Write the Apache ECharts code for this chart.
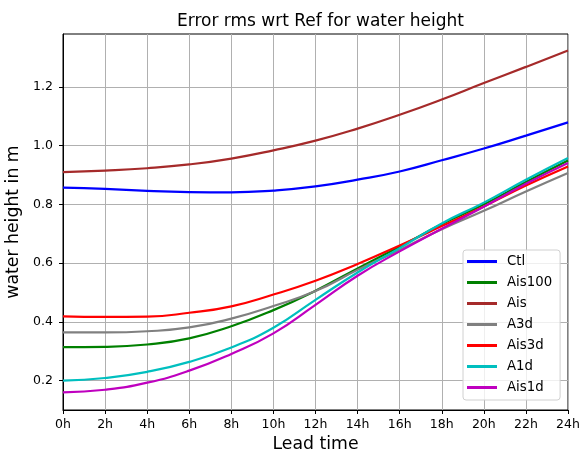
<!DOCTYPE html>
<html>
<head>
<meta charset="utf-8">
<script src="https://cdn.jsdelivr.net/npm/echarts@6/dist/echarts.min.js"></script>
<style>
  html, body { margin: 0; padding: 0; background: #fff; }
  #chart { width: 581px; height: 452px; }
</style>
</head>
<body>
<div id="chart"></div>
<script>
// lead time in hours
const leadHours = [0, 2, 4, 6, 8, 10, 12, 14, 16, 18, 20, 22, 24];
const yTicks = [0.2, 0.4, 0.6, 0.8, 1.0, 1.2];

// rms error per experiment (m), read every 2h
const ctl    = [0.857, 0.853, 0.846, 0.842, 0.841, 0.847, 0.861, 0.884, 0.912, 0.950, 0.990, 1.034, 1.079];
const ais100 = [0.314, 0.315, 0.323, 0.344, 0.385, 0.440, 0.506, 0.582, 0.656, 0.732, 0.800, 0.876, 0.949];
const ais    = [0.910, 0.915, 0.923, 0.936, 0.956, 0.984, 1.017, 1.058, 1.105, 1.157, 1.213, 1.268, 1.324];
const a3d    = [0.364, 0.364, 0.368, 0.381, 0.411, 0.454, 0.505, 0.577, 0.645, 0.715, 0.778, 0.844, 0.907];
const ais3d  = [0.419, 0.417, 0.418, 0.431, 0.453, 0.493, 0.540, 0.597, 0.660, 0.726, 0.793, 0.864, 0.929];
const a1d    = [0.200, 0.209, 0.230, 0.264, 0.313, 0.380, 0.475, 0.568, 0.651, 0.735, 0.806, 0.884, 0.958];
const ais1d  = [0.160, 0.169, 0.193, 0.234, 0.291, 0.361, 0.458, 0.557, 0.640, 0.717, 0.792, 0.870, 0.941];

const seriesDefs = [
  { name: 'Ctl',    data: ctl,    color: '#0000ff' },
  { name: 'Ais100', data: ais100, color: '#008000' },
  { name: 'Ais',    data: ais,    color: '#a52a2a' },
  { name: 'A3d',    data: a3d,    color: '#808080' },
  { name: 'Ais3d',  data: ais3d,  color: '#ff0000' },
  { name: 'A1d',    data: a1d,    color: '#00bfbf' },
  { name: 'Ais1d',  data: ais1d,  color: '#bf00bf' }
];

const FONT = 'DejaVu Sans';
const chart = echarts.init(document.getElementById('chart'), null, { renderer: 'canvas' });

chart.setOption({
  animation: false,
  textStyle: { fontFamily: FONT },
  title: {
    text: 'Error rms wrt Ref for water height',
    left: 315.5,
    top: 8,
    textAlign: 'center',
    textStyle: { fontFamily: FONT, fontSize: 17, fontWeight: 'normal', color: '#000' }
  },
  grid: {
    left: 63, right: 13, top: 34, bottom: 42,
    outerBoundsMode: 'none',
    containLabel: false,
    show: true, borderColor: '#000', borderWidth: 1, backgroundColor: '#fff'
  },
  legend: {
    orient: 'vertical',
    left: 463,
    top: 250,
    icon: 'rect',
    itemWidth: 30,
    itemHeight: 3,
    itemGap: 8,
    padding: [5, 8, 6, 4],
    backgroundColor: 'rgba(255,255,255,0.8)',
    borderColor: '#d0d0d0',
    borderWidth: 1,
    borderRadius: 3,
    textStyle: { fontFamily: FONT, fontSize: 13.3, color: '#000', padding: [0, 0, 0, 5] },
    data: seriesDefs.map(s => s.name)
  },
  xAxis: {
    type: 'value',
    min: 0,
    max: 24,
    interval: 2,
    name: 'Lead time',
    nameLocation: 'middle',
    nameGap: 26,
    nameTextStyle: { fontFamily: FONT, fontSize: 17.3, color: '#000' },
    axisLine: { lineStyle: { color: '#000', width: 1 } },
    axisTick: { show: true, length: 4, inside: false, lineStyle: { color: '#000' } },
    axisLabel: {
      fontFamily: FONT, fontSize: 12.5, color: '#000', margin: 8,
      formatter: v => v + 'h'
    },
    splitLine: { show: true, lineStyle: { color: '#b0b0b0', width: 1 } }
  },
  yAxis: {
    type: 'value',
    min: 0.1,
    max: 1.38,
    splitNumber: 6,
    name: 'water height in m',
    nameLocation: 'middle',
    nameGap: 38,
    nameTextStyle: { fontFamily: FONT, fontSize: 17.3, color: '#000' },
    axisLine: { show: true, lineStyle: { color: '#000', width: 1 } },
    axisTick: { show: true, length: 4, inside: false, customValues: yTicks, lineStyle: { color: '#000' } },
    axisLabel: {
      fontFamily: FONT, fontSize: 12.5, color: '#000', margin: 10,
      customValues: yTicks,
      formatter: v => v.toFixed(1)
    },
    splitLine: { show: true, lineStyle: { color: '#b0b0b0', width: 1 } }
  },
  series: seriesDefs.map(s => ({
    name: s.name,
    type: 'line',
    data: leadHours.map((h, i) => [h, s.data[i]]),
    smooth: 0.5,
    symbol: 'none',
    color: s.color,
    lineStyle: { color: s.color, width: 2.2 }
  }))
});
</script>
</body>
</html>
